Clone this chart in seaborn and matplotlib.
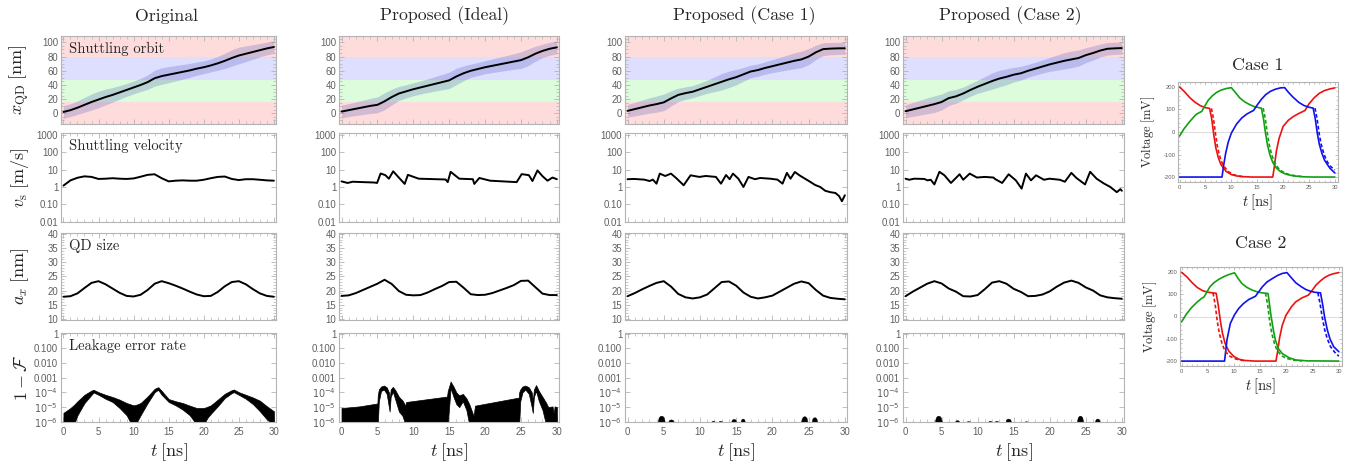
import numpy as np
import matplotlib
matplotlib.use("Agg")
import matplotlib.pyplot as plt
import seaborn as sns
from matplotlib.ticker import FixedLocator, MultipleLocator, NullFormatter, LogLocator

# ---------------- data ----------------
T_GRID = list(range(31))
T_TICKS = [0, 5, 10, 15, 20, 25, 30]
COLUMN_TITLES = ["Original", "Proposed (Ideal)", "Proposed (Case 1)", "Proposed (Case 2)"]
PANEL_LABELS = ["Shuttling orbit", "Shuttling velocity", "QD size", "Leakage error rate"]

# dot position x_QD [nm] on T_GRID
X_ORIG = [2, 4.5, 8, 12, 16, 19.5, 23, 26, 29.5, 33, 36.5, 40, 44, 49.5, 52.5, 54.5, 56.5, 58.5,
          60.5, 63, 65, 67.5, 70.5, 74, 78, 81.5, 84, 86.5, 89, 91.5, 93.5]
X_IDEAL = [2.5, 4.5, 6.5, 8.5, 10.5, 12, 17, 23, 28, 31, 34, 36.5, 39, 41.5, 44, 46.5, 52, 56.5,
           60, 62.5, 65, 67, 69, 71, 73, 75, 79, 84, 88, 91, 93]
X_CASE1 = [3.5, 6, 8.5, 11, 13, 15.5, 21, 26, 28.5, 30.5, 34, 37.5, 41, 44.5, 48, 51, 55, 59,
           61, 64, 66.5, 69, 71.5, 74, 76, 80, 86, 90.5, 91.2, 91.6, 91.7]
X_CASE2 = [3, 5.5, 8, 10.5, 13, 16, 21.5, 24, 28, 33, 37.5, 41.5, 45.5, 49, 51.5, 54.5, 56.5, 60,
           63, 66, 69, 71.5, 74, 76, 78, 82, 85, 88.5, 91, 91.6, 92]

# QD size a_x [nm] on T_GRID
A_ORIG = [17.8, 18.0, 19.0, 20.9, 22.7, 23.3, 22.2, 20.7, 19.2, 18.1, 17.9, 18.5, 20.2, 22.4, 23.3, 22.6,
          21.7, 20.7, 19.6, 18.6, 18.0, 18.1, 19.5, 21.5, 23.0, 23.3, 22.2, 20.5, 19.0, 18.1, 17.8]
A_IDEAL = [18.1, 18.3, 19.1, 20.2, 21.3, 22.4, 23.8, 22.3, 19.8, 18.5, 18.3, 18.4, 19.3, 20.5, 21.6, 23.0,
           23.1, 21.0, 18.7, 18.4, 18.5, 19.1, 20.0, 20.9, 21.9, 23.4, 23.5, 21.2, 18.9, 18.4, 18.4]
A_CASE1 = [18.0, 19.1, 20.4, 21.6, 22.7, 23.3, 21.4, 18.8, 17.6, 17.2, 17.6, 18.6, 20.8, 23.0, 23.2, 21.7,
           19.3, 17.8, 17.2, 17.6, 18.2, 19.6, 21.0, 22.4, 23.2, 22.6, 20.2, 18.2, 17.4, 17.1, 16.9]
A_CASE2 = [18.0, 19.6, 21.0, 22.4, 23.3, 22.5, 20.7, 19.6, 18.0, 17.9, 18.4, 20.5, 22.8, 23.3, 22.4, 20.6,
           19.5, 18.0, 18.1, 18.6, 19.7, 21.4, 22.8, 23.5, 22.7, 21.1, 20.0, 18.3, 17.6, 17.3, 17.1]

# shuttling velocity v_s [m/s]
V_ORIG_T = T_GRID
V_ORIG = [1.2, 2.4, 3.4, 4.1, 3.8, 2.9, 3.0, 3.2, 3.0, 2.9, 3.1, 3.9, 5.0, 5.4, 3.2, 2.1, 2.3, 2.4, 2.3,
          2.3, 2.6, 3.2, 3.8, 4.0, 2.9, 2.5, 2.8, 2.8, 2.6, 2.4, 2.3]
V_IDEAL_T = [0, 0.85, 1.55, 4.6, 4.95, 5.45, 6.1, 6.6, 7.2, 7.9, 8.8, 9.25, 10.75, 14.5, 14.8, 15.2, 16.4,
             18.3, 18.5, 19.2, 20.7, 24.4, 25.1, 26.1, 26.6, 27.3, 28.0, 28.7, 29.4, 30]
V_IDEAL = [2.1, 1.7, 2.0, 1.8, 1.7, 6.0, 4.8, 3.0, 8.0, 3.8, 1.5, 5.0, 3.0, 2.7, 1.9, 7.5, 3.0,
           2.8, 1.5, 3.3, 2.3, 1.9, 5.5, 4.8, 2.2, 9.0, 4.2, 2.3, 3.5, 2.8]
V_CASE1_T = [0, 0.9, 2.3, 3.05, 3.5, 4.0, 4.45, 5.2, 6.0, 6.7, 7.75, 8.7, 9.9, 10.8, 12.2, 12.9, 13.6,
             14.1, 14.55, 15.3, 16.0, 16.7, 17.6, 18.3, 19.7, 20.7, 21.4, 22.0, 22.5, 23.1, 23.8, 24.5,
             25.2, 25.9, 26.6, 27.3, 28.0, 28.7, 29.2, 29.6, 30]
V_CASE1 = [2.8, 2.9, 2.65, 2.2, 2.65, 1.55, 5.9, 4.3, 5.9, 3.3, 1.25, 4.7, 3.8, 4.3, 3.8, 1.55, 4.9,
           2.8, 5.9, 3.0, 1.0, 3.8, 2.8, 3.3, 3.0, 2.65, 1.55, 6.5, 3.0, 7.3, 4.5, 3.0,
           2.0, 1.3, 1.0, 0.6, 0.5, 0.45, 0.3, 0.15, 0.33]
V_CASE2_T = [0, 0.5, 1.2, 2.6, 3.05, 3.5, 4.0, 4.7, 5.4, 6.3, 7.5, 8.0, 8.9, 9.9, 11.0, 12.2, 12.4, 13.4,
             14.3, 15.3, 16.1, 16.7, 17.4, 18.1, 19.2, 19.95, 21.4, 22.1, 23.0, 23.7, 24.9, 25.6, 26.5,
             27.5, 28.4, 29.3, 29.8, 30]
V_CASE2 = [3.0, 2.6, 3.0, 2.9, 2.4, 2.6, 1.4, 7.5, 4.7, 1.7, 5.4, 2.6, 5.9, 3.5, 3.8, 3.5, 2.9, 1.7,
           5.4, 2.4, 0.8, 5.9, 2.4, 4.7, 2.6, 3.0, 2.6, 2.0, 6.5, 3.3, 1.4, 7.5, 3.0,
           1.6, 1.0, 0.5, 0.75, 0.6]

# leakage error rate: log10 envelopes of the fast oscillation
L_ORIG_T = [0, 1, 1.5, 2, 3, 4, 4.3, 5, 6, 7, 8, 9, 9.5, 10, 10.5, 11, 12, 13, 13.5, 14, 15, 16, 17, 18,
            19, 20, 20.5, 21, 22, 23, 24, 24.3, 25, 26, 27, 28, 29, 30]
L_ORIG_UP = [-5.39, -5.06, -4.85, -4.60, -4.16, -3.87, -3.82, -3.98, -4.16, -4.31, -4.49, -4.72, -4.80,
             -4.88, -4.82, -4.72, -4.27, -3.75, -3.64, -3.89, -4.45, -4.60, -4.72, -4.90, -5.06, -5.06,
             -4.98, -4.88, -4.49, -4.09, -3.84, -3.80, -3.98, -4.16, -4.34, -4.56, -4.94, -5.28]
L_ORIG_LO = [-6.2, -6.2, -6.2, -5.55, -4.72, -4.16, -4.00, -4.16, -4.43, -4.65, -5.06, -5.55, -6.0,
             -6.2, -6.0, -5.55, -4.72, -3.98, -3.82, -4.16, -4.65, -4.88, -5.17, -5.55, -6.2, -6.2,
             -5.75, -5.46, -4.94, -4.38, -4.04, -3.98, -4.16, -4.43, -4.79, -5.28, -5.84, -6.2]
L_IDEAL_T = [0, 2.5, 5.0, 5.05, 5.2, 5.5, 5.9, 6.3, 6.6, 6.7, 6.85, 7.15, 7.5, 8.0, 8.5, 8.9, 9.0, 14.7,
             14.8, 15.2, 15.6, 16.0, 16.4, 16.9, 17.4, 17.8, 18.4, 18.6, 24.7, 24.75, 24.9, 25.2, 25.6,
             26.1, 26.5, 26.65, 26.8, 27.1, 27.5, 28.0, 28.5, 28.8, 29.4, 29.55, 29.7, 30]
L_IDEAL_UP = [-5.06, -4.95, -4.75, -4.2, -3.8, -3.6, -3.53, -3.65, -4.0, -4.5, -3.8, -3.62, -3.85, -4.3,
              -4.55, -4.9, -4.65, -4.28, -3.9, -3.26, -3.6, -4.0, -4.2, -4.1, -4.4, -4.8, -5.6, -4.9,
              -4.35, -4.0, -3.8, -3.6, -3.53, -3.65, -4.0, -4.6, -3.8, -3.5, -3.9, -4.3, -4.7, -5.0,
              -4.95, -5.4, -4.95, -5.0]
L_IDEAL_LO = [-6.2, -6.2, -6.2, -6.2, -4.6, -3.9, -3.8, -4.1, -5.0, -5.3, -4.3, -3.95, -4.5, -5.3,
              -5.6, -6.2, -6.2, -6.2, -6.2, -3.7, -4.3, -4.8, -5.0, -4.6, -5.2, -6.2, -6.2, -6.2,
              -6.2, -6.2, -4.6, -4.0, -3.8, -4.1, -5.0, -5.4, -4.3, -3.9, -4.6, -5.2, -6.2, -6.2,
              -6.2, -6.2, -6.2, -6.2]
# small leakage bumps of the Case 1 / Case 2 protocols: centre [ns], log10 peak, half width [ns]
BUMP1_T = [4.65, 6.0, 11.8, 12.8, 14.65, 15.9, 24.4, 25.8]
BUMP1_H = [-5.58, -5.84, -5.93, -5.93, -5.80, -5.78, -5.62, -5.69]
BUMP1_W = [0.5, 0.4, 0.25, 0.25, 0.35, 0.3, 0.45, 0.4]
BUMP2_T = [4.55, 7.15, 8.7, 11.7, 12.6, 14.25, 16.7, 24.2, 26.6]
BUMP2_H = [-5.58, -5.89, -5.95, -5.93, -5.93, -5.78, -5.96, -5.58, -5.78]
BUMP2_W = [0.5, 0.3, 0.25, 0.25, 0.25, 0.4, 0.2, 0.45, 0.35]

# gate voltages [mV] (right column)
C1_RED_T = [0, 1, 2, 3, 4, 5, 5.8, 6.2, 6.6, 7, 7.5, 8, 9, 10, 11, 12, 14, 16, 18, 18.3, 18.7, 19.2, 20,
            21, 22, 23, 24.2, 25, 26, 27, 28, 29, 30]
C1_RED = [200, 178, 152, 132, 117, 108, 105, 60, -10, -70, -115, -145, -175, -189, -195, -198, -200,
          -200, -200, -155, -85, -30, 25, 52, 69, 82, 95, 125, 152, 172, 184, 191, 196]
C1_RED_DASH_T = [6.15, 6.55, 6.95, 7.35, 7.85, 8.35, 9.35, 10.35, 11.35, 12.35]
C1_RED_DASH = [105, 60, -10, -70, -115, -145, -175, -189, -195, -198]
C1_GREEN_T = [0, 0.8, 1.6, 2.4, 3.2, 4.3, 5, 5.5, 6.3, 7.1, 8, 9, 10, 10.8, 11.6, 12.5, 13.5, 14.5, 15.8,
              16.2, 16.6, 17, 17.5, 18, 18.7, 19.5, 20.5, 22, 24, 26, 30]
C1_GREEN = [-18, 12, 36, 58, 78, 92, 120, 140, 160, 175, 186, 193, 197, 175, 152, 135, 122, 112, 106,
            60, -5, -60, -105, -135, -160, -176, -187, -195, -199, -200, -200]
C1_GREEN_DASH_T = [16.15, 16.55, 16.95, 17.35, 17.85, 18.35, 19.05, 19.85, 21.0, 22.5, 24.0]
C1_GREEN_DASH = [106, 60, -5, -60, -105, -135, -160, -176, -188, -195, -199]
C1_BLUE_T = [0, 8.2, 8.5, 8.9, 9.4, 10, 11, 12, 13, 14.3, 15, 15.8, 16.6, 17.5, 18.5, 19.5, 20.3, 21,
             21.9, 23, 24, 25, 25.8, 26.2, 26.6, 27, 27.5, 28, 29, 30]
C1_BLUE = [-200, -200, -150, -95, -45, -5, 35, 62, 80, 96, 120, 145, 165, 180, 190, 196, 197, 177,
           155, 132, 118, 110, 106, 60, -5, -55, -95, -125, -160, -182]
C1_BLUE_DASH_T = [26.15, 26.55, 26.95, 27.35, 27.85, 28.35, 29.0, 30]
C1_BLUE_DASH = [106, 60, -5, -55, -95, -125, -150, -168]

C2_RED_T = [0, 1, 2, 3, 4, 5, 6, 6.6, 7, 7.4, 7.8, 8.3, 9, 10, 11, 12, 14, 16, 18, 18.3, 18.7, 19.2,
            19.9, 21, 21.8, 23, 24.2, 25, 25.6, 26.5, 27.3, 28.2, 29, 30]
C2_RED = [198, 178, 152, 130, 116, 109, 106, 104, 50, -20, -75, -120, -155, -180, -192, -197, -200,
          -200, -200, -160, -95, -40, 5, 45, 66, 84, 96, 120, 140, 160, 175, 186, 192, 197]
C2_RED_DASH_T = [6.0, 6.4, 6.8, 7.2, 7.7, 8.2, 9.0, 10.0, 11.0, 12.0]
C2_RED_DASH = [106, 55, -20, -75, -120, -150, -175, -188, -195, -198]
C2_GREEN_T = [0, 0.9, 1.9, 2.9, 3.8, 4.3, 5.4, 6.2, 7.05, 8, 9, 10.1, 10.8, 11.5, 12.5, 13.5, 14.5, 15.4,
              16.5, 17.0, 17.5, 17.9, 18.5, 19.2, 20.5, 21.8, 24, 30]
C2_GREEN = [-24, 10, 40, 63, 81, 88, 133, 152, 166, 178, 188, 196, 170, 148, 130, 118, 110, 106, 103,
            13, -60, -106, -145, -166, -185, -195, -199, -200]
C2_GREEN_DASH_T = [16.0, 16.4, 16.8, 17.2, 17.7, 18.2, 19.0, 20.0, 21.5, 23.0]
C2_GREEN_DASH = [105, 55, -20, -75, -120, -150, -175, -188, -196, -199]
C2_BLUE_T = [0, 8.2, 8.65, 9.3, 10.1, 10.9, 11.8, 12.8, 14.1, 15.4, 16.3, 17.3, 18.3, 19.2, 20.1, 21.0,
             21.8, 22.8, 23.7, 24.5, 25.3, 26.5, 26.9, 27.3, 27.8, 28.3, 29.0, 30]
C2_BLUE = [-200, -200, -106, -31, 8, 36, 58, 76, 91, 133, 155, 170, 184, 193, 197, 172, 151, 134, 121,
           114, 109, 106, 55, -5, -60, -100, -135, -158]
C2_BLUE_DASH_T = [26.0, 26.4, 26.8, 27.3, 27.8, 28.4, 29.2, 30]
C2_BLUE_DASH = [106, 60, 0, -60, -100, -135, -160, -178]

ZONE_EDGES = [-15, 15.6, 47, 79, 109]

# ---------------- style ----------------
sns.set_theme(style="ticks")
plt.rcParams.update({
    "font.family": ["Liberation Sans", "DejaVu Sans"],
    "mathtext.fontset": "cm",
    "axes.unicode_minus": False,
    "axes.facecolor": "white",
    "figure.facecolor": "white",
})

W, H = 1361, 468
fig = plt.figure(figsize=(W / 100, H / 100), dpi=100)


def px_axes(l, t, r, b):
    return fig.add_axes([l / W, 1 - b / H, (r - l) / W, (b - t) / H])


FRAME = "#b4b4b4"
TICKTXT = "#5f5f5f"
ZONE_COLORS = ["#ffdcdc", "#dcfcdc", "#dedeff", "#ffdcdc"]
SERIF = "cmr10"
LW = 1.4


def frame(ax, labelsize=6.9, showx=False):
    for s in ax.spines.values():
        s.set_color(FRAME)
        s.set_linewidth(0.8)
    ax.tick_params(which="both", direction="in", top=True, right=True, colors=FRAME,
                   labelcolor=TICKTXT, labelsize=labelsize, pad=2)
    ax.tick_params(which="major", length=3.5, width=0.6)
    ax.tick_params(which="minor", length=2, width=0.5)
    ax.set_xlim(-0.35, 30.3)
    ax.xaxis.set_major_locator(FixedLocator(T_TICKS))
    ax.xaxis.set_minor_locator(MultipleLocator(1))
    ax.tick_params(labelbottom=showx)
    ax.set_xlabel("")
    ax.set_ylabel("")


COLS = [(61, 276), (339, 559), (625, 847), (903, 1124)]
ROWS = [(36, 124), (133, 222), (233, 320), (333, 422)]
TITLE_X = [166, 445, 744, 1010]

X_ALL = [X_ORIG, X_IDEAL, X_CASE1, X_CASE2]
A_ALL = [A_ORIG, A_IDEAL, A_CASE1, A_CASE2]
V_ALL = [(V_ORIG_T, V_ORIG), (V_IDEAL_T, V_IDEAL), (V_CASE1_T, V_CASE1), (V_CASE2_T, V_CASE2)]
L_ALL = [(L_ORIG_T, L_ORIG_UP, L_ORIG_LO), (L_IDEAL_T, L_IDEAL_UP, L_IDEAL_LO),
         (BUMP1_T, BUMP1_H, BUMP1_W), (BUMP2_T, BUMP2_H, BUMP2_W)]
YLABELS = [r"$x_{\mathrm{QD}}\;[\mathrm{nm}]$", r"$v_{\mathrm{s}}\;[\mathrm{m/s}]$",
           r"$a_x\;[\mathrm{nm}]$", r"$1-\mathcal{F}$"]

BUMP_DX = [-1, -0.7, -0.35, 0, 0.35, 0.7, 1]
BUMP_SHAPE = [-0.05, 0.7, 0.95, 1, 0.95, 0.7, -0.05]

for c, (l, r) in enumerate(COLS):
    tg = np.array(T_GRID, float)
    xq = np.array(X_ALL[c], float)
    aq = np.array(A_ALL[c], float)

    # row 1: orbit
    ax = px_axes(l, ROWS[0][0], r, ROWS[0][1])
    for k in range(4):
        ax.axhspan(ZONE_EDGES[k], ZONE_EDGES[k + 1], color=ZONE_COLORS[k], lw=0, zorder=0)
    ax.fill_between(tg, xq - aq / 2, xq + aq / 2, color="#4a55b5", alpha=0.25, lw=0, zorder=1)
    sns.lineplot(x=tg, y=xq, ax=ax, color="black", lw=LW, estimator=None, sort=False, zorder=3)
    ax.set_ylim(ZONE_EDGES[0], ZONE_EDGES[-1])
    ax.yaxis.set_major_locator(FixedLocator([0, 20, 40, 60, 80, 100]))
    ax.yaxis.set_minor_locator(MultipleLocator(5))
    frame(ax)
    rows_axes = [ax]

    # row 2: velocity
    ax = px_axes(l, ROWS[1][0], r, ROWS[1][1])
    vt, vv = V_ALL[c]
    sns.lineplot(x=np.array(vt, float), y=np.array(vv, float), ax=ax, color="black", lw=LW,
                 estimator=None, sort=False)
    ax.set_yscale("log")
    ax.set_ylim(0.0095, 1300)
    ax.yaxis.set_major_locator(FixedLocator([0.01, 0.1, 1, 10, 100, 1000]))
    ax.set_yticklabels(["0.01", "0.10", "1", "10", "100", "1000"])
    ax.yaxis.set_minor_locator(LogLocator(subs=range(2, 10)))
    ax.yaxis.set_minor_formatter(NullFormatter())
    frame(ax)
    rows_axes.append(ax)

    # row 3: QD size
    ax = px_axes(l, ROWS[2][0], r, ROWS[2][1])
    sns.lineplot(x=tg, y=aq, ax=ax, color="black", lw=LW, estimator=None, sort=False)
    ax.set_ylim(9.6, 40.3)
    ax.yaxis.set_major_locator(FixedLocator([10, 15, 20, 25, 30, 35, 40]))
    ax.yaxis.set_minor_locator(MultipleLocator(1))
    frame(ax)
    rows_axes.append(ax)

    # row 4: leakage
    ax = px_axes(l, ROWS[3][0], r, ROWS[3][1])
    ax.set_yscale("log")
    if c < 2:
        lt, up, lo = L_ALL[c]
        ax.fill_between(np.array(lt, float), 10 ** np.array(lo, float), 10 ** np.array(up, float),
                        color="black", lw=0.5, edgecolor="black")
    else:
        bt, bh, bw = L_ALL[c]
        for cen, h, w in zip(bt, bh, bw):
            xs = cen + w * np.array(BUMP_DX)
            ys = 10 ** (-6 + (h + 6) * np.array(BUMP_SHAPE))
            ax.fill_between(xs, 10 ** -6.3, ys, color="black", lw=0.3, edgecolor="black")
    ax.set_ylim(0.97e-6, 1.12)
    ax.yaxis.set_major_locator(FixedLocator([1e-6, 1e-5, 1e-4, 1e-3, 1e-2, 1e-1, 1]))
    ax.set_yticklabels([r"$10^{-6}$", r"$10^{-5}$", r"$10^{-4}$", "0.001", "0.010", "0.100", "1"])
    for lab in ax.get_yticklabels():
        lab.set_math_fontfamily("dejavusans")
    ax.yaxis.set_minor_locator(LogLocator(subs=range(2, 10)))
    ax.yaxis.set_minor_formatter(NullFormatter())
    frame(ax, showx=True)
    ax.tick_params(axis="x", pad=3.5)
    rows_axes.append(ax)

    ax.set_xlabel(r"$t\;[\mathrm{ns}]$", fontsize=13, labelpad=3)

    if c == 0:
        for k, a in enumerate(rows_axes):
            a.set_ylabel(YLABELS[k], fontsize=13)
            a.yaxis.set_label_coords(-0.14, 0.5)
            a.text(0.035, 0.85, PANEL_LABELS[k], transform=a.transAxes, fontsize=10.5,
                   family=SERIF, va="center", ha="left", zorder=5)

    fig.text(TITLE_X[c] / W, 1 - 16 / H, COLUMN_TITLES[c], fontsize=12.8, family=SERIF,
             ha="center", va="center")


# ---------------- right column: gate voltages ----------------
RED, GREEN, BLUE = "#ee1111", "#11a011", "#1111ee"


def volt_panel(box, title_y, xlabel_y, title, solid, dashed):
    ax = px_axes(*box)
    ax.axhline(0, color="#d6d6d6", lw=0.6, zorder=0)
    for tt, vv, col in solid:
        sns.lineplot(x=np.array(tt, float), y=np.array(vv, float), ax=ax, color=col, lw=1.2,
                     estimator=None, sort=False)
    for tt, vv, col in dashed:
        ax.plot(tt, vv, color=col, lw=1.2, ls=(0, (2.2, 1.4)))
    ax.set_ylim(-222, 222)
    ax.yaxis.set_major_locator(FixedLocator([-200, -100, 0, 100, 200]))
    ax.yaxis.set_minor_locator(MultipleLocator(20))
    frame(ax, labelsize=4.2, showx=True)
    ax.tick_params(which="major", length=2.5)
    ax.tick_params(which="minor", length=1.3)
    ax.set_xlim(-0.3, 30.6)
    ax.set_ylabel(r"$\mathrm{Voltage}\;[\mathrm{mV}]$", fontsize=9)
    ax.yaxis.set_label_coords(-0.13, 0.5)
    cx = (box[0] + box[2]) / 2
    fig.text(cx / W, 1 - title_y / H, title, fontsize=12.8, family=SERIF, ha="center", va="center")
    fig.text(cx / W, 1 - xlabel_y / H, r"$t\;[\mathrm{ns}]$", fontsize=10.5, ha="center", va="center")


volt_panel((1178, 82, 1338, 182), 65, 202, "Case 1",
           [(C1_RED_T, C1_RED, RED), (C1_GREEN_T, C1_GREEN, GREEN), (C1_BLUE_T, C1_BLUE, BLUE)],
           [(C1_RED_DASH_T, C1_RED_DASH, RED), (C1_GREEN_DASH_T, C1_GREEN_DASH, GREEN),
            (C1_BLUE_DASH_T, C1_BLUE_DASH, BLUE)])
volt_panel((1180, 267, 1342, 366), 243, 386, "Case 2",
           [(C2_RED_T, C2_RED, RED), (C2_GREEN_T, C2_GREEN, GREEN), (C2_BLUE_T, C2_BLUE, BLUE)],
           [(C2_RED_DASH_T, C2_RED_DASH, RED), (C2_GREEN_DASH_T, C2_GREEN_DASH, GREEN),
            (C2_BLUE_DASH_T, C2_BLUE_DASH, BLUE)])

fig.savefig("out.png", dpi=100)
